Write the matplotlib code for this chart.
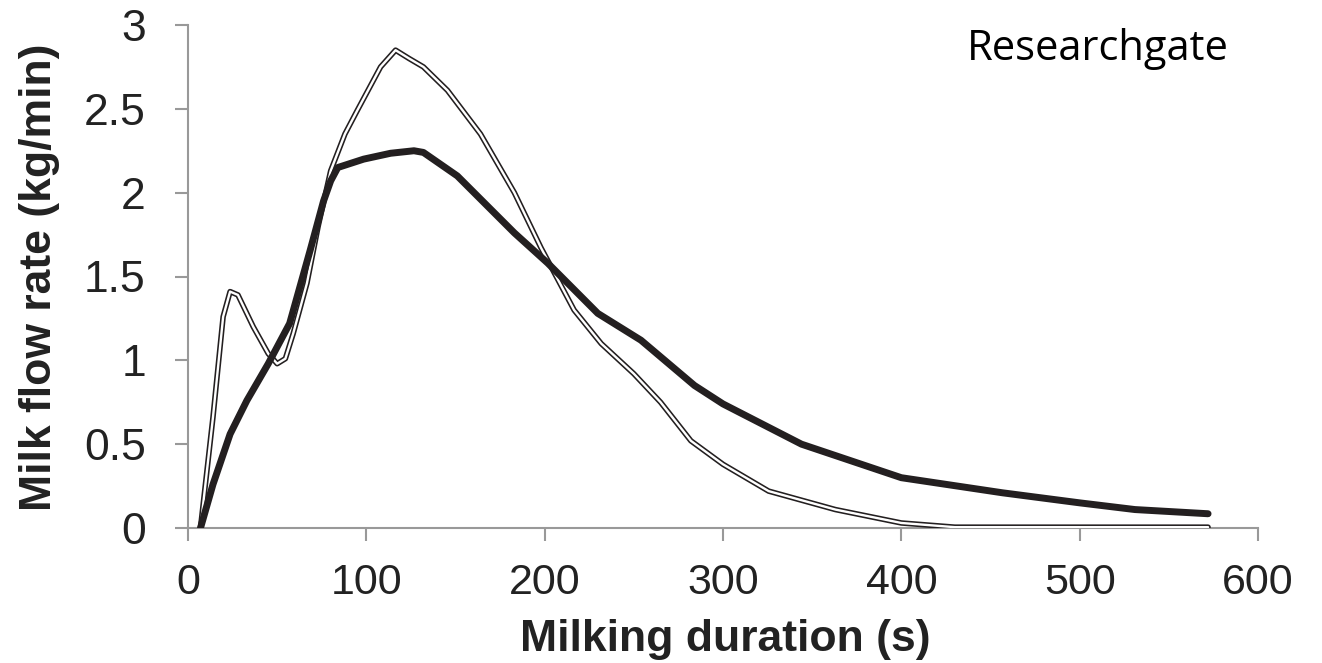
import matplotlib
matplotlib.use("Agg")
import matplotlib.pyplot as plt

# ---- data ----
solid_x = [7, 14, 23.6, 33, 45, 57, 68.6, 76, 80, 84, 98.5, 113.6, 126.7, 132,
           151, 183, 201.7, 229.8, 254, 284, 300, 344, 400, 456.7, 500, 531, 572]
solid_y = [0, 0.26, 0.56, 0.76, 0.98, 1.22, 1.66, 1.95, 2.07, 2.15, 2.20, 2.235,
           2.25, 2.24, 2.10, 1.76, 1.58, 1.28, 1.12, 0.85, 0.74, 0.50, 0.30,
           0.21, 0.15, 0.11, 0.085]

open_x = [7, 14, 19.7, 23.6, 28, 36.6, 45, 50, 54.6, 59, 66.7, 73, 80, 88, 94.9,
          108, 116.4, 124, 132, 145.5, 164, 183, 198, 216.5, 231.7, 250, 265,
          282, 300, 325.6, 363, 400, 430, 572]
open_y = [0, 0.66, 1.26, 1.41, 1.39, 1.20, 1.04, 0.98, 1.01, 1.16, 1.46, 1.80,
          2.13, 2.35, 2.49, 2.75, 2.85, 2.80, 2.75, 2.61, 2.35, 2.0, 1.67, 1.30,
          1.10, 0.92, 0.75, 0.52, 0.38, 0.22, 0.11, 0.03, 0.005, 0.005]

x_ticks = [0, 100, 200, 300, 400, 500, 600]
y_ticks = [0, 0.5, 1, 1.5, 2, 2.5, 3]
y_tick_labels = ["0", "0.5", "1", "1.5", "2", "2.5", "3"]

x_label = "Milking duration (s)"
y_label = "Milk flow rate (kg/min)"
watermark = "Researchgate"

# ---- figure ----
W, H = 1322, 663
fig = plt.figure(figsize=(W / 100, H / 100), dpi=100)
ax = fig.add_axes([188 / W, 1 - 528 / H, (1258 - 188) / W, (528 - 25) / H])

line_col = "#231f20"
axis_col = "#999999"

# open (double-outline) curve
ax.plot(open_x, open_y, color=line_col, lw=4.0, solid_joinstyle="round",
        solid_capstyle="round", zorder=3)
ax.plot(open_x, open_y, color="white", lw=1.7, solid_joinstyle="round",
        solid_capstyle="round", zorder=4)
# solid curve
ax.plot(solid_x, solid_y, color=line_col, lw=5.0, solid_joinstyle="round",
        solid_capstyle="round", zorder=5)

ax.set_xlim(0, 600)
ax.set_ylim(0, 3)
ax.set_xticks(x_ticks)
ax.set_yticks(y_ticks)
ax.set_yticklabels(y_tick_labels)

for s in ["top", "right"]:
    ax.spines[s].set_visible(False)
for s in ["left", "bottom"]:
    ax.spines[s].set_color(axis_col)
    ax.spines[s].set_linewidth(1.5)

ax.tick_params(axis="y", direction="out", length=9.4, width=1.5, color=axis_col,
               pad=21, labelsize=32, labelcolor="#222222")
ax.tick_params(axis="x", direction="out", length=9, width=1.5, color=axis_col,
               pad=16, labelsize=31, labelcolor="#222222")
for lab in ax.get_xticklabels() + ax.get_yticklabels():
    lab.set_fontfamily("Liberation Sans")

fig.text(40 / W, 1 - 277 / H, y_label, rotation=90, ha="center", va="center",
         fontsize=32, fontweight="bold", family="Liberation Sans", color="#222222")
fig.text(725 / W, 1 - 651 / H, x_label, ha="center", va="baseline",
         fontsize=32, fontweight="bold", family="Liberation Sans", color="#222222")
fig.text(967 / W, 1 - 60 / H, watermark, ha="left", va="baseline",
         fontsize=30, family="Open Sans", color="black")

fig.savefig("out.png", dpi=100, facecolor="white")
